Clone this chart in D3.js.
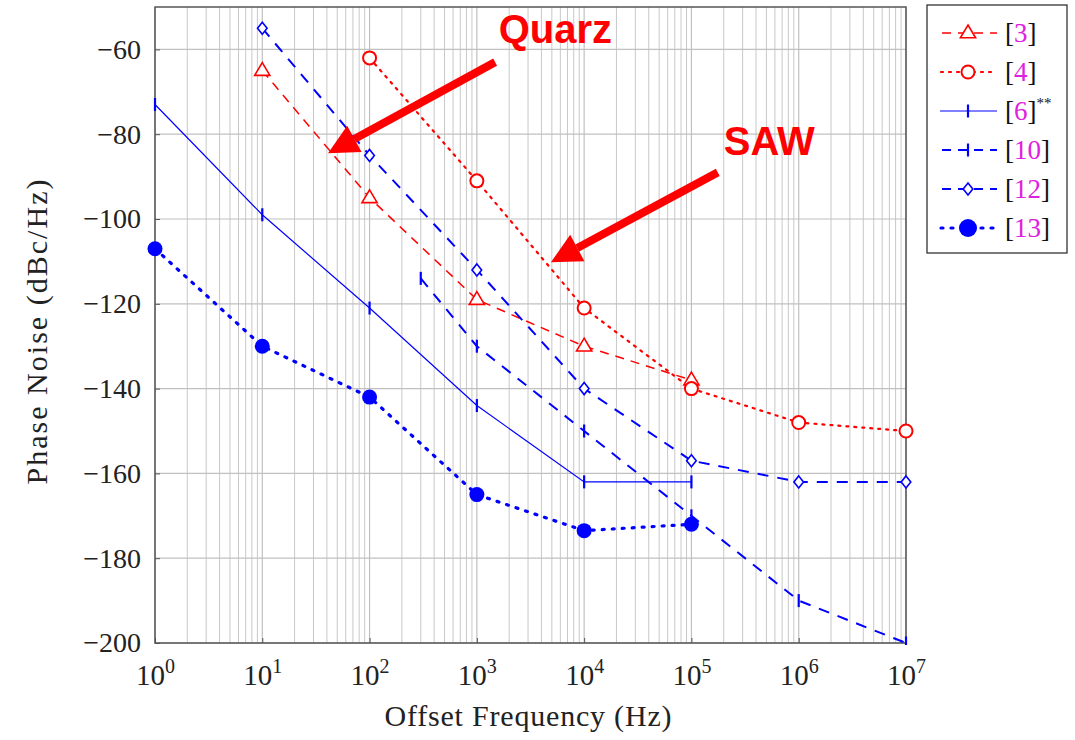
<!DOCTYPE html>
<html><head><meta charset="utf-8">
<script src="https://cdn.jsdelivr.net/npm/d3@7"></script>
<style>body{margin:0;background:#fff}svg{display:block}</style>
</head><body>
<script>
// ---- data ----
const xTicks = [1,10,100,1e3,1e4,1e5,1e6,1e7];
const yTicks = [-60,-80,-100,-120,-140,-160,-180,-200];
const s3  = [[10,-65],[100,-95],[1e3,-119],[1e4,-130],[1e5,-138]];
const s4  = [[100,-62],[1e3,-91],[1e4,-121],[1e5,-140],[1e6,-148],[1e7,-150]];
const s6  = [[1,-73],[10,-99],[100,-121],[1e3,-144],[1e4,-162],[1e5,-162]];
const s10 = [[300,-114],[1e3,-130],[1e4,-150],[1e5,-170],[1e6,-190],[1e7,-200]];
const s12 = [[10,-55],[100,-85],[1e3,-112],[1e4,-140],[1e5,-157],[1e6,-162],[1e7,-162]];
const s13 = [[1,-107],[10,-130],[100,-142],[1e3,-165],[1e4,-173.5],[1e5,-172]];
const labels = ["3","4","6","10","12","13"];
const annotations = [
  {text:"Quarz", tail:[1480,-63], tip:[41,-84.5], at:[1600,-58.6]},
  {text:"SAW", tail:[176000,-89], tip:[4900,-110.2], at:[200000,-85]}
];

const W=1075,H=740;
const L=155,R=906,T=7,B=643;
const svg=d3.select("body").append("svg").attr("width",W).attr("height",H);
const x=d3.scaleLog().domain([1,1e7]).range([L,R]);
const y=d3.scaleLinear().domain([-200,-50]).range([B,T]);
const serif="'Liberation Serif','DejaVu Serif',serif";
const RED="#ff0000", BLUE="#0000ff";

// grid
const g=svg.append("g");
const minor=[];
for(let e=0;e<7;e++)for(let k=2;k<=9;k++)minor.push(k*Math.pow(10,e));
g.selectAll(".mg").data(minor).enter().append("line")
 .attr("x1",d=>x(d)).attr("x2",d=>x(d)).attr("y1",T).attr("y2",B)
 .attr("stroke","#c8c8c8").attr("stroke-width",1);
g.selectAll(".xg").data(xTicks).enter().append("line")
 .attr("x1",d=>x(d)).attr("x2",d=>x(d)).attr("y1",T).attr("y2",B)
 .attr("stroke","#c0c0c0").attr("stroke-width",1.2);
g.selectAll(".yg").data(yTicks).enter().append("line")
 .attr("x1",L).attr("x2",R).attr("y1",d=>y(d)).attr("y2",d=>y(d))
 .attr("stroke","#c0c0c0").attr("stroke-width",1.2);

// axes via d3
const fmtMinus=d=>"\u2212"+Math.abs(d);
const ya=svg.append("g").attr("transform",`translate(${L},0)`)
 .call(d3.axisLeft(y).tickValues(yTicks).tickFormat(fmtMinus).tickSize(-5).tickPadding(14));
ya.select(".domain").remove();
ya.selectAll("text").attr("font-family",serif).attr("font-size",28).attr("fill","#222");
ya.selectAll("line").attr("stroke","#555");
const xa=svg.append("g").attr("transform",`translate(0,${B})`)
 .call(d3.axisBottom(x).tickValues(xTicks).tickFormat("").tickSize(-5));
xa.select(".domain").remove();
xa.selectAll("line").attr("stroke","#555");
xa.selectAll(".tick").append("text").attr("y",42).attr("x",0).attr("text-anchor","middle")
 .attr("font-family",serif).attr("font-size",29).attr("fill","#222")
 .each(function(d){
   const t=d3.select(this);
   t.append("tspan").text("10");
   t.append("tspan").attr("dy",-12).attr("font-size",20).text(Math.round(Math.log10(d)));
 });
svg.append("rect").attr("x",L).attr("y",T).attr("width",R-L).attr("height",B-T)
 .attr("fill","none").attr("stroke","#555").attr("stroke-width",1.5);

svg.append("text").attr("x",528).attr("y",726).attr("text-anchor","middle")
 .attr("font-family",serif).attr("font-size",30).attr("textLength",287).attr("lengthAdjust","spacing")
 .attr("fill","#222").text("Offset Frequency (Hz)");
svg.append("text").attr("transform",`translate(47,332) rotate(-90)`).attr("text-anchor","middle")
 .attr("font-family",serif).attr("font-size",30).attr("textLength",305).attr("lengthAdjust","spacing")
 .attr("fill","#222").text("Phase Noise (dBc/Hz)");

// series
const series=[
 {data:s3,color:RED,dash:"9,7",w:1.5,mark:"tri"},
 {data:s4,color:RED,dash:"2,6",w:2.2,mark:"circ"},
 {data:s6,color:BLUE,dash:null,w:1.2,mark:"bar"},
 {data:s10,color:BLUE,dash:"11,9",w:2,mark:"bar"},
 {data:s12,color:BLUE,dash:"11,9",w:2,mark:"diam"},
 {data:s13,color:BLUE,dash:"2,8",w:3.2,mark:"dot"}
];
const line=d3.line().x(d=>x(d[0])).y(d=>y(d[1]));
svg.append("clipPath").attr("id","c").append("rect").attr("x",L-10).attr("y",T).attr("width",R-L+20).attr("height",B-T+2);
function drawMark(sel,m,color,cx,cy,scale){
  scale=scale||1;
  if(m==="tri"){
    const s=8*scale;
    sel.append("path").attr("d",`M${cx},${cy-s}L${cx+s*0.95},${cy+s*0.6}L${cx-s*0.95},${cy+s*0.6}Z`)
     .attr("fill","#fff").attr("stroke",color).attr("stroke-width",1.6);
  } else if(m==="circ"){
    sel.append("circle").attr("cx",cx).attr("cy",cy).attr("r",6.5*scale).attr("fill","#fff").attr("stroke",color).attr("stroke-width",2);
  } else if(m==="bar"){
    sel.append("line").attr("x1",cx).attr("x2",cx).attr("y1",cy-6.5*scale).attr("y2",cy+6.5*scale).attr("stroke",color).attr("stroke-width",2.2);
  } else if(m==="diam"){
    const s=6*scale;
    sel.append("path").attr("d",`M${cx},${cy-s}L${cx+s*0.8},${cy}L${cx},${cy+s}L${cx-s*0.8},${cy}Z`)
     .attr("fill","#fff").attr("stroke",color).attr("stroke-width",1.6);
  } else if(m==="dot"){
    sel.append("circle").attr("cx",cx).attr("cy",cy).attr("r",7.5*scale).attr("fill",color);
  }
}
const sg=svg.append("g").attr("clip-path","url(#c)");
series.forEach(s=>{
  sg.append("path").datum(s.data).attr("d",line).attr("fill","none").attr("stroke",s.color)
   .attr("stroke-width",s.w).attr("stroke-dasharray",s.dash).attr("stroke-linecap",s.mark==="dot"||s.mark==="circ"?"round":"butt");
});
series.forEach(s=>{
  s.data.forEach(d=>drawMark(sg,s.mark,s.color,x(d[0]),y(d[1])));
});

// annotations
annotations.forEach(a=>{
  const x1=x(a.tail[0]),y1=y(a.tail[1]),x2=x(a.tip[0]),y2=y(a.tip[1]);
  const ang=Math.atan2(y2-y1,x2-x1), hl=30, hw=15;
  const bx=x2-hl*Math.cos(ang), by=y2-hl*Math.sin(ang);
  svg.append("line").attr("x1",x1).attr("y1",y1).attr("x2",bx).attr("y2",by)
   .attr("stroke",RED).attr("stroke-width",8);
  const px=-Math.sin(ang), py=Math.cos(ang);
  svg.append("path").attr("d",`M${x2},${y2}L${bx+px*hw},${by+py*hw}L${bx-px*hw},${by-py*hw}Z`).attr("fill",RED);
  svg.append("text").attr("x",x(a.at[0])).attr("y",y(a.at[1])).attr("font-family","'Liberation Sans',Arial,sans-serif")
   .attr("font-weight","bold").attr("font-size",40).attr("fill",RED).text(a.text);
});

// legend
const lg=svg.append("g");
lg.append("rect").attr("x",927).attr("y",5).attr("width",140).attr("height",248).attr("fill","#fff").attr("stroke","#333").attr("stroke-width",1.3);
series.forEach((s,i)=>{
  const cy=33+i*39;
  lg.append("line").attr("x1",940).attr("x2",997).attr("y1",cy).attr("y2",cy).attr("stroke",s.color)
   .attr("stroke-width",s.w).attr("stroke-dasharray",s.dash? (s.mark==="dot"?"2,8":(s.mark==="circ"?"2,6":"9,7")):null)
   .attr("stroke-dashoffset",s.dash?(s.mark==="dot"?-1:(s.mark==="circ"?-1:-2)):0)
   .attr("stroke-linecap",s.mark==="dot"||s.mark==="circ"?"round":"butt");
  drawMark(lg,s.mark,s.color,968,cy,s.mark==="dot"?1.2:1);
  const t=lg.append("text").attr("x",1005).attr("y",cy+9).attr("font-family",serif).attr("font-size",27).attr("fill","#111");
  t.append("tspan").text("[");
  t.append("tspan").attr("fill","#e020e0").text(labels[i]);
  t.append("tspan").text("]");
  if(labels[i]==="6") t.append("tspan").attr("dy",-12).attr("font-size",15).text("**");
});
</script>
</body></html>
